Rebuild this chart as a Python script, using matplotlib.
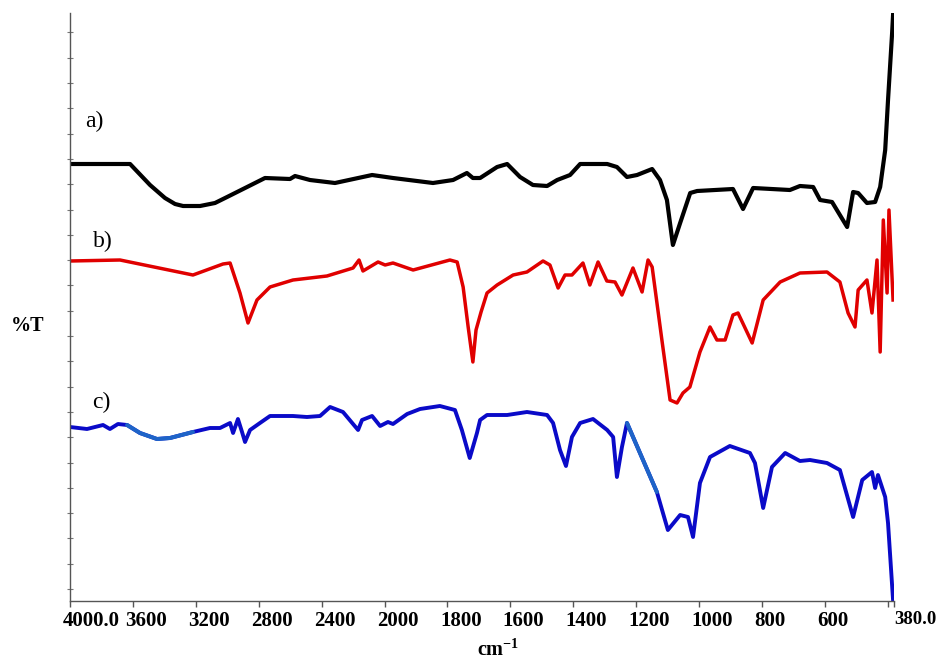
import numpy as np
import matplotlib
matplotlib.use("Agg")
import matplotlib.pyplot as plt
import matplotlib.transforms as mtransforms

plt.rcParams['font.family'] = ['Liberation Serif', 'DejaVu Serif']
plt.rcParams['mathtext.fontset'] = 'custom'
plt.rcParams['mathtext.rm'] = 'Liberation Serif'
plt.rcParams['mathtext.bf'] = 'Liberation Serif:bold'

# spectrum a)
wn_a = [4000, 3618, 3491, 3396, 3332, 3281, 3173, 3078, 3001, 2874, 2760, 2601,
        2569, 2474, 2315, 2079, 1973, 1846, 1782, 1738, 1719, 1696, 1642, 1610,
        1569, 1528, 1483, 1451, 1410, 1378, 1292, 1261, 1229, 1197, 1149, 1124,
        1102, 1083, 1060, 1028, 1006, 892, 860, 828, 711, 679, 637, 615, 577,
        529, 510, 494, 466, 440, 424, 408, 399, 386, 383]
t_a = [85.0, 85.0, 80.8, 78.2, 77.0, 76.6, 76.6, 77.2, 78.4, 80.4, 82.2, 82.0,
       82.6, 81.8, 81.2, 82.8, 82.2, 81.2, 81.8, 83.2, 82.2, 82.2, 84.4, 85.0,
       82.4, 80.8, 80.6, 81.8, 82.8, 85.0, 85.0, 84.4, 82.4, 82.8, 84.0, 81.8,
       77.8, 68.8, 73.2, 79.2, 79.6, 80.0, 76.0, 80.2, 79.8, 80.6, 80.4, 77.8,
       77.4, 72.4, 79.4, 79.2, 77.2, 77.4, 80.4, 87.8, 97.8, 111.2, 114.8]

# spectrum b)
wn_b = [4000, 3682, 3218, 3027, 2982, 2919, 2868, 2811, 2728, 2582, 2366, 2200,
        2162, 2137, 2041, 1998, 1973, 1909, 1792, 1769, 1750, 1734, 1719, 1709,
        1693, 1674, 1642, 1591, 1547, 1496, 1474, 1448, 1426, 1404, 1369, 1347,
        1321, 1293, 1267, 1245, 1210, 1181, 1162, 1149, 1118, 1092, 1070, 1051,
        1029, 997, 965, 943, 917, 892, 876, 831, 796, 742, 679, 593, 552, 526,
        504, 494, 466, 450, 434, 424, 414, 402, 396, 383]
t_b = [65.6, 65.8, 62.8, 65.0, 65.2, 59.2, 53.2, 57.8, 60.4, 61.8, 62.6, 64.2,
       65.8, 63.6, 65.4, 64.8, 65.2, 63.8, 65.8, 65.4, 60.4, 52.4, 45.4, 51.8,
       55.4, 59.2, 60.8, 62.8, 63.4, 65.6, 64.8, 60.2, 62.8, 62.8, 65.2, 60.8,
       65.4, 61.6, 61.4, 58.8, 64.2, 59.4, 65.8, 64.4, 49.8, 37.8, 37.2, 39.2,
       40.4, 47.4, 52.4, 49.8, 49.8, 54.8, 55.2, 49.2, 57.8, 61.4, 63.2, 63.4,
       61.4, 55.2, 52.4, 59.8, 61.8, 55.2, 65.8, 47.4, 73.8, 59.2, 75.8, 57.8]

# spectrum c)
wn_c = [4000, 3892, 3790, 3746, 3695, 3637, 3555, 3447, 3364, 3218, 3110, 3046,
        2982, 2963, 2932, 2906, 2887, 2855, 2792, 2728, 2582, 2493, 2410, 2346,
        2264, 2168, 2143, 2079, 2028, 1989, 1973, 1928, 1887, 1824, 1776, 1754,
        1729, 1706, 1696, 1674, 1610, 1547, 1483, 1464, 1442, 1423, 1404, 1378,
        1337, 1292, 1273, 1261, 1245, 1229, 1134, 1099, 1060, 1035, 1019, 997,
        965, 902, 838, 822, 796, 768, 726, 679, 647, 593, 552, 510, 481, 450,
        440, 431, 408, 399, 383]
t_c = [32.4, 32.0, 32.8, 32.0, 33.0, 32.8, 31.2, 30.0, 30.2, 31.4, 32.2, 32.2,
       33.2, 31.2, 34.0, 31.4, 29.4, 31.8, 33.2, 34.6, 34.6, 34.4, 34.6, 36.4,
       35.4, 31.8, 33.8, 34.6, 32.6, 33.4, 33.0, 35.0, 36.0, 36.6, 35.8, 31.8,
       26.2, 31.2, 33.8, 34.8, 34.8, 35.4, 34.8, 33.2, 27.8, 24.6, 30.4, 33.2,
       34.0, 31.8, 30.4, 22.4, 28.4, 33.2, 19.4, 11.8, 14.8, 14.4, 10.4, 21.2,
       26.4, 28.6, 27.2, 25.2, 16.2, 24.4, 27.2, 25.6, 25.8, 25.2, 23.8, 14.4,
       21.8, 23.4, 20.2, 22.8, 18.4, 13.2, -2.2]

# corrected stretches of c), drawn in a lighter blue
patched_c = [(3650, 3192), (1229, 1134)]

x_ticks = [4000, 3600, 3200, 2800, 2400, 2000, 1800, 1600, 1400, 1200, 1000, 800, 600, 400, 380]
x_labels = ['4000.0', '3600', '3200', '2800', '2400', '2000', '1800', '1600',
            '1400', '1200', '1000', '800', '600', '', '380.0']


# wavenumber axis: 4000-2000 at half the scale of 2000-380
def fwd(x):
    x = np.asarray(x, dtype=float)
    return np.where(x <= 2000, x, 2000 + (x - 2000) / 2)


def inv(u):
    u = np.asarray(u, dtype=float)
    return np.where(u <= 2000, u, 2000 + 2 * (u - 2000))


fig = plt.figure(figsize=(9.37, 6.59), dpi=100)
ax = fig.add_axes([70 / 937, 1 - 601 / 659, (894 - 70) / 937, (601 - 13) / 659])
ax.set_xscale('function', functions=(fwd, inv))

ax.plot(wn_a, t_a, color='black', lw=3.0, solid_joinstyle='round')
ax.plot(wn_b, t_b, color='#e00000', lw=2.5, solid_joinstyle='round')
ax.plot(wn_c, t_c, color='#0a0ac8', lw=2.8, solid_joinstyle='round')
wc = np.array(wn_c)
tc = np.array(t_c)
for hi, lo in patched_c:
    m = (wc <= hi) & (wc >= lo)
    ax.plot(wc[m], tc[m], color='#1e64c8', lw=2.9, solid_capstyle='round')

ax.set_xlim(4000, 380)
ax.set_ylim(-2.4, 115.2)

ax.text(3847, 93.6, 'a)', fontsize=17, ha='center', va='center')
ax.text(3790, 69.6, 'b)', fontsize=17, ha='center', va='center')
ax.text(3803, 37.4, 'c)', fontsize=17, ha='center', va='center')

ax.spines['top'].set_visible(False)
ax.spines['right'].set_visible(False)
for s in ('left', 'bottom'):
    ax.spines[s].set_color('#555555')
    ax.spines[s].set_linewidth(1.0)

ax.set_xticks(x_ticks)
ax.set_xticklabels(x_labels, fontsize=15, fontweight='bold', ha='left')
ax.tick_params(axis='x', direction='out', length=4, width=1, color='#555555', pad=3)
shift = mtransforms.ScaledTranslation(-0.075, 0, fig.dpi_scale_trans)
labels = ax.get_xticklabels()
for lab in labels[:-1]:
    lab.set_transform(lab.get_transform() + shift)
labels[-1].set_fontsize(13.5)

ax.set_yticks(np.arange(0, 113, 5.06))
ax.set_yticklabels([])
ax.tick_params(axis='y', direction='inout', length=5, width=0.8, color='#777777')

fig.text(28 / 937, 1 - 326 / 659, '%T', fontsize=14.5, fontweight='bold', ha='center', va='center')
fig.text(498 / 937, 1 - 650 / 659, r'$\mathbf{cm^{-1}}$', fontsize=14.5, ha='center', va='center')

fig.savefig('out.png', dpi=100)
